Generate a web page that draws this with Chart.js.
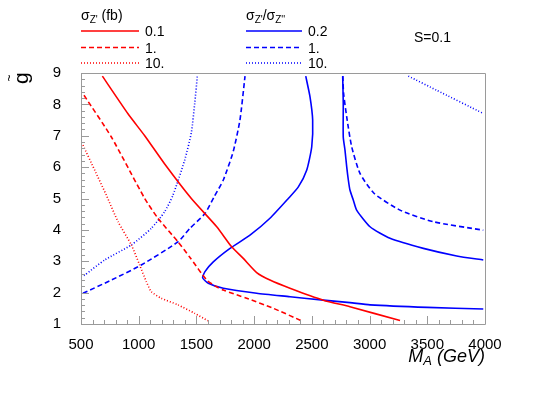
<!DOCTYPE html>
<html>
<head>
<meta charset="utf-8">
<script src="https://cdn.jsdelivr.net/npm/chart.js@4.4.1/dist/chart.umd.min.js"></script>
<style>
  html, body { margin: 0; padding: 0; background: #fff; }
  #wrap { width: 540px; height: 405px; }
</style>
</head>
<body>
<div id="wrap"><canvas id="chart"></canvas></div>
<script>
// axis ranges
const xRange = [500, 4000];
const yRange = [1, 9];

// sigma_Z' contours (fb) - red
const xsec01X = [685, 907, 1052, 1225, 1456, 1676, 1805, 1906, 2022, 2137, 2310, 2599, 2830, 3264];
const xsec01Y = [8.9, 7.7, 7.0, 6.1, 5.0, 4.1, 3.46, 3.09, 2.64, 2.40, 2.14, 1.76, 1.55, 1.11];
const xsec1X = [526, 763, 1052, 1167, 1340, 1444, 1589, 1672, 1733, 1935, 2166, 2412];
const xsec1Y = [8.29, 6.96, 5.0, 4.37, 3.62, 3.12, 2.40, 2.19, 2.08, 1.82, 1.50, 1.10];
const xsec10X = [517, 619, 719, 821, 936, 1008, 1066, 1109, 1196, 1340, 1485, 1600];
const xsec10Y = [6.70, 5.90, 5.11, 4.26, 3.52, 2.88, 2.35, 2.03, 1.82, 1.61, 1.34, 1.10];

// sigma_Z'/sigma_Z'' contours - blue (two branches each)
const ratio02aX = [2447, 2484, 2507, 2499, 2455, 2383, 2296, 2137, 1964, 1791, 1646, 1574, 1554, 1603, 1733, 2022, 2311, 2599, 2830, 3004, 3500, 3985];
const ratio02aY = [8.9, 8.24, 7.5, 6.65, 5.9, 5.37, 5.0, 4.37, 3.83, 3.41, 2.98, 2.67, 2.47, 2.30, 2.14, 1.98, 1.87, 1.76, 1.68, 1.61, 1.53, 1.48];
const ratio02bX = [2767, 2772, 2772, 2787, 2802, 2816, 2830, 2859, 2888, 3004, 3177, 3466, 3755, 3985];
const ratio02bY = [8.9, 8.03, 6.96, 6.54, 6.01, 5.59, 5.27, 4.95, 4.63, 4.10, 3.73, 3.41, 3.17, 3.04];
const ratio1aX = [517, 763, 1022, 1340, 1444, 1574, 1653, 1733, 1819, 1877, 1921];
const ratio1aY = [1.98, 2.40, 2.88, 3.62, 4.05, 4.52, 5.05, 5.59, 6.5, 7.5, 8.9];
const ratio1bX = [2768, 2775, 2802, 2845, 2917, 3040, 3264, 3552, 3985];
const ratio1bY = [8.9, 8.35, 7.6, 6.65, 5.8, 5.16, 4.63, 4.26, 3.99];
const ratio10aX = [526, 705, 936, 1109, 1225, 1297, 1398, 1456, 1485, 1508];
const ratio10aY = [2.54, 3.04, 3.52, 4.05, 4.58, 5.11, 6.22, 7.1, 8.03, 8.9];
const ratio10bX = [3336, 3581, 3985];
const ratio10bY = [8.9, 8.45, 7.71];

// legend text
const xsecLabels = ['0.1', '1.', '10.'];
const ratioLabels = ['0.2', '1.', '10.'];

const RED = '#ff0000';
const BLUE = '#0000ff';
const FRAME = '#9a9a9a';
const FONT = "'Liberation Sans', Arial, sans-serif";
const SOLID = [];
const DASH = [5, 3];
const DOT = [1, 2];

const toPoints = (xs, ys) => xs.map((x, i) => ({ x, y: ys[i] }));

const line = (xs, ys, color, dash) => ({
  data: toPoints(xs, ys),
  showLine: true,
  borderColor: color,
  borderWidth: 1.6,
  borderDash: dash,
  pointRadius: 0,
  pointHoverRadius: 0,
  tension: 0.2,
  fill: false,
});

const datasets = [
  line(xsec01X, xsec01Y, RED, SOLID),
  line(xsec1X, xsec1Y, RED, DASH),
  line(xsec10X, xsec10Y, RED, DOT),
  line(ratio02aX, ratio02aY, BLUE, SOLID),
  line(ratio1aX, ratio1aY, BLUE, DASH),
  line(ratio10aX, ratio10aY, BLUE, DOT),
  line(ratio02bX, ratio02bY, BLUE, SOLID),
  line(ratio1bX, ratio1bY, BLUE, DASH),
  line(ratio10bX, ratio10bY, BLUE, DOT),
];

// draws text pieces one after another; sub pieces are smaller and lowered
const drawPieces = (ctx, x, y, pieces, size, italic) => {
  const style = italic ? 'italic ' : '';
  pieces.forEach(([txt, sub]) => {
    const s = sub ? Math.round(size * 0.7) : size;
    ctx.font = `${style}${s}px ${FONT}`;
    ctx.fillText(txt, x, sub ? y + 3 : y);
    x += ctx.measureText(txt).width;
  });
  return x;
};

const piecesWidth = (ctx, pieces, size, italic) => {
  const style = italic ? 'italic ' : '';
  return pieces.reduce((w, [txt, sub]) => {
    ctx.font = `${style}${sub ? Math.round(size * 0.7) : size}px ${FONT}`;
    return w + ctx.measureText(txt).width;
  }, 0);
};

const decor = {
  id: 'decor',
  afterDatasetsDraw(chart) {
    const { ctx, chartArea: { left, right, top, bottom } } = chart;
    const xs = chart.scales.x;
    const ys = chart.scales.y;
    ctx.save();

    // frame + inner ticks
    ctx.strokeStyle = FRAME;
    ctx.lineWidth = 1;
    ctx.setLineDash([]);
    ctx.beginPath();
    ctx.rect(Math.round(left) + 0.5, Math.round(top) + 0.5, Math.round(right - left), Math.round(bottom - top));
    for (let v = xRange[0]; v <= xRange[1]; v += 100) {
      const px = Math.round(xs.getPixelForValue(v)) + 0.5;
      const len = v % 500 === 0 ? 8 : 4;
      ctx.moveTo(px, bottom);
      ctx.lineTo(px, bottom - len);
    }
    for (let i = 0; i <= (yRange[1] - yRange[0]) * 5; i++) {
      const py = Math.round(ys.getPixelForValue(yRange[0] + i * 0.2)) + 0.5;
      const len = i % 5 === 0 ? 8 : 4;
      ctx.moveTo(left, py);
      ctx.lineTo(left + len, py);
    }
    ctx.stroke();

    ctx.fillStyle = '#000';
    ctx.textBaseline = 'alphabetic';
    ctx.textAlign = 'left';

    // x title, right aligned to the frame
    const xTitle = [['M', false], ['A', true], [' (GeV)', false]];
    const w = piecesWidth(ctx, xTitle, 18, true);
    drawPieces(ctx, right - w, 362, xTitle, 18, true);

    // y title: g with tilde, rotated
    ctx.save();
    ctx.translate(28, 84);
    ctx.rotate(-Math.PI / 2);
    ctx.font = `21px ${FONT}`;
    ctx.fillText('g', 0, 0);
    ctx.font = `12px ${FONT}`;
    ctx.textAlign = 'center';
    ctx.fillText('~', 6, -15);
    ctx.restore();

    // legend, two columns
    const rowsY = [31, 47.5, 63];
    const col = (x0, x1, header, labels, sets) => {
      drawPieces(ctx, x0, 20, header, 14, false);
      rowsY.forEach((y, i) => {
        const ds = chart.data.datasets[sets[i]];
        ctx.strokeStyle = ds.borderColor;
        ctx.lineWidth = ds.borderWidth;
        ctx.setLineDash(ds.borderDash);
        ctx.beginPath();
        ctx.moveTo(x0, y);
        ctx.lineTo(x1, y);
        ctx.stroke();
        ctx.font = `14px ${FONT}`;
        ctx.fillText(labels[i], x1 + 6, y + 5);
      });
    };
    col(81, 139, [['σ', false], ["Z'", true], [' (fb)', false]], xsecLabels, [0, 1, 2]);
    col(246, 302, [['σ', false], ["Z'", true], ['/σ', false], ["Z''", true]], ratioLabels, [3, 4, 5]);

    ctx.setLineDash([]);
    ctx.font = `14px ${FONT}`;
    ctx.fillText('S=0.1', 414, 42);
    ctx.restore();
  },
};

new Chart(document.getElementById('chart').getContext('2d'), {
  type: 'scatter',
  data: { datasets },
  options: {
    responsive: true,
    maintainAspectRatio: false,
    animation: false,
    events: [],
    layout: { padding: { top: 73, right: 55, left: 0, bottom: 0 } },
    plugins: { legend: { display: false }, tooltip: { enabled: false } },
    scales: {
      x: {
        type: 'linear',
        min: xRange[0],
        max: xRange[1],
        afterFit: (s) => { s.height = 81; },
        grid: { display: false },
        border: { display: false },
        ticks: {
          stepSize: 500,
          padding: 4,
          maxRotation: 0,
          color: '#000',
          font: { family: FONT, size: 15 },
          callback: (v) => String(v),
        },
      },
      y: {
        type: 'linear',
        min: yRange[0],
        max: yRange[1],
        afterFit: (s) => { s.width = 81; },
        grid: { display: false },
        border: { display: false },
        ticks: {
          stepSize: 1,
          padding: 12,
          color: '#000',
          font: { family: FONT, size: 15 },
          callback: (v) => String(v),
        },
      },
    },
  },
  plugins: [decor],
});
</script>
</body>
</html>
